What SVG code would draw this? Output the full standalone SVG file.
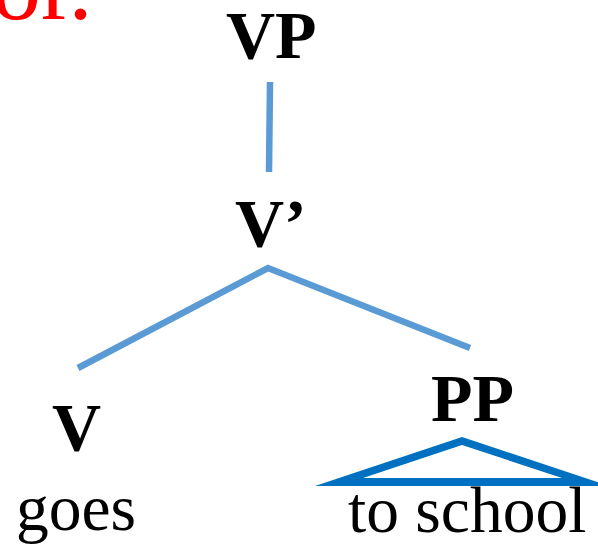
<svg xmlns="http://www.w3.org/2000/svg" width="598" height="544" viewBox="0 0 598 544">
<style>
.lbl{font-family:"Liberation Serif","Times New Roman",serif;font-weight:bold;font-size:68px;fill:#000}
.wd{font-family:"Liberation Serif","Times New Roman",serif;font-size:65.5px;fill:#000}
.edge{stroke:#5B9BD5;stroke-width:6.5;fill:none;stroke-linecap:butt}
</style>
<rect width="598" height="544" fill="#fff"/>
<text x="-8" y="19" font-family="Liberation Serif, Times New Roman, serif" font-size="98" fill="#FF0000">or.</text>
<g id="connectors">
<line class="edge" x1="270" y1="82" x2="269" y2="172"/>
<polyline class="edge" points="78,368 268,268 470,348"/>
</g>
<g id="node-VP"><text class="lbl" x="226" y="58">VP</text></g>
<g id="node-Vbar"><text class="lbl" x="235" y="246">V’</text></g>
<g id="node-V"><text class="lbl" x="52" y="450">V</text><text class="wd" x="16" y="530">goes</text></g>
<g id="node-PP"><text class="lbl" x="431" y="421">PP</text>
<path d="M315,486 L462,437 L609,486 Z M363,478 L562,478 L462,445 Z" fill="#0070C0" fill-rule="evenodd"/>
<text class="wd" x="348" y="532">to school</text></g>
</svg>
